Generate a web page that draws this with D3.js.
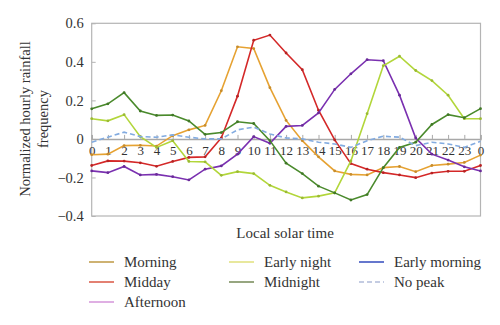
<!DOCTYPE html>
<html><head><meta charset="utf-8">
<script src="https://cdn.jsdelivr.net/npm/d3@7"></script>
<style>body{margin:0;background:#fff}svg{display:block}</style>
</head><body><svg id="c" width="500" height="325"></svg>
<script>
const hours = d3.range(0, 25);
const hourLabels = hours.map(h => String(h % 24));
const yTicks = [-0.4, -0.2, 0, 0.2, 0.4, 0.6];

const morning   = [-0.082,-0.079,-0.035,-0.033,-0.037,0.017,0.047,0.07,0.25,0.478,0.469,0.266,0.096,-0.009,-0.093,-0.166,-0.184,-0.187,-0.149,-0.143,-0.17,-0.138,-0.131,-0.122,-0.084];
const midday    = [-0.138,-0.114,-0.115,-0.124,-0.142,-0.117,-0.096,-0.093,0.005,0.222,0.512,0.539,0.446,0.359,0.149,-0.005,-0.128,-0.157,-0.175,-0.187,-0.201,-0.177,-0.168,-0.168,-0.138];
const earlyNight= [0.105,0.094,0.126,0.012,-0.044,-0.009,-0.117,-0.119,-0.189,-0.17,-0.18,-0.241,-0.275,-0.306,-0.297,-0.28,-0.114,0.131,0.38,0.429,0.355,0.303,0.227,0.105,0.105];
const midnight  = [0.156,0.182,0.24,0.145,0.122,0.124,0.093,0.024,0.033,0.089,0.08,-0.009,-0.126,-0.18,-0.245,-0.28,-0.317,-0.289,-0.149,-0.044,-0.017,0.075,0.126,0.11,0.157];
const afternoon = [-0.166,-0.175,-0.143,-0.187,-0.184,-0.196,-0.213,-0.157,-0.14,-0.079,0.012,-0.023,0.065,0.07,0.135,0.257,0.338,0.411,0.406,0.227,0.005,-0.079,-0.11,-0.145,-0.166];
const noPeak    = [-0.017,0.009,0.035,0.012,0.009,0.021,0.009,0,0,0.047,0.061,0.026,0.005,0,-0.017,-0.026,-0.044,-0.009,0.014,0.009,-0.035,-0.017,-0.026,-0.044,-0.012];

const seriesNames = ["Morning","Midday","Afternoon","Early night","Midnight","No peak"];
const seriesData  = [morning, midday, afternoon, earlyNight, midnight, noPeak];
const seriesColors= ["#e6a232","#d42828","#7a30b0","#b2d63a","#4a8a2c","#82abe0"];

const legendNames  = ["Morning","Midday","Afternoon","Early night","Midnight","Early morning","No peak"];
const legendColors = ["#c9aa62","#e07262","#dca6e0","#e6e692","#8c9c72","#5468c8","#c4cce2"];

const svg = d3.select("#c");
const font = "'Liberation Serif','DejaVu Serif',serif";
const L = 91.7, R = 480.5, T = 23.3, B = 216;
const x = d3.scaleLinear().domain([0, 24]).range([L, R]);
const y = d3.scaleLinear().domain([-0.4, 0.6]).range([B, T]);

// frame
svg.append("rect").attr("x", L).attr("y", T).attr("width", R - L).attr("height", B - T)
  .attr("fill", "none").attr("stroke", "#b4b4b4").attr("stroke-width", 1.2);

// y axis
const yAxis = d3.axisLeft(y).tickValues(yTicks).tickSize(-4).tickPadding(8)
  .tickFormat(d => d === 0 ? "0" : (d < 0 ? "\u2212" : "") + Math.abs(d).toFixed(1));
const ya = svg.append("g").attr("transform", `translate(${L},0)`).call(yAxis);
ya.select(".domain").remove();
ya.selectAll("line").attr("stroke", "#b4b4b4");
ya.selectAll("text").attr("font-family", font).attr("font-size", 14.5).attr("fill", "#333");

// x axis at zero
const xAxis = d3.axisBottom(x).tickValues(hours).tickSize(-4).tickPadding(7)
  .tickFormat((d, i) => hourLabels[i]);
const xa = svg.append("g").attr("transform", `translate(0,${y(0)})`).call(xAxis);
xa.select(".domain").attr("stroke", "#a8a8a8").attr("stroke-width", 1.5);
xa.selectAll("line").attr("stroke", "#a8a8a8");
xa.selectAll("text").attr("font-family", font).attr("font-size", 13).attr("fill", "#333");

// lines
const line = d3.line().x((d, i) => x(hours[i])).y(d => y(d));
seriesData.forEach((data, k) => {
  const g = svg.append("g");
  g.append("path").datum(data).attr("d", line).attr("fill", "none")
    .attr("stroke", seriesColors[k]).attr("stroke-width", 1.6)
    .attr("stroke-dasharray", seriesNames[k] === "No peak" ? "5,3" : null);
  if (seriesNames[k] !== "No peak") {
    g.selectAll("circle").data(data).join("circle")
      .attr("cx", (d, i) => x(hours[i])).attr("cy", d => y(d)).attr("r", 1.4)
      .attr("fill", d3.color(seriesColors[k]).darker(0.4));
  }
});

// axis titles
svg.append("text").attr("x", (L + R) / 2 - 1).attr("y", 238).attr("text-anchor", "middle")
  .attr("font-family", font).attr("font-size", 15).attr("fill", "#333").text("Local solar time");
const yt = svg.append("text").attr("transform", "translate(30,119) rotate(-90)")
  .attr("text-anchor", "middle").attr("font-family", font).attr("font-size", 14.5).attr("fill", "#333");
yt.append("tspan").attr("x", 0).attr("dy", 0).text("Normalized hourly rainfall");
yt.append("tspan").attr("x", 0).attr("dy", 18).text("frequency");

// legend
const cols = [89, 229, 359], rows = [262, 282, 302];
const pos = [[0,0],[0,1],[0,2],[1,0],[1,1],[2,0],[2,1]];
legendNames.forEach((n, i) => {
  const [c, r] = pos[i];
  const g = svg.append("g").attr("transform", `translate(${cols[c]},${rows[r]})`);
  g.append("line").attr("x1", 0).attr("x2", 25).attr("y1", 0).attr("y2", 0)
    .attr("stroke", legendColors[i]).attr("stroke-width", 1.8)
    .attr("stroke-dasharray", n === "No peak" ? "5,3" : null);
  g.append("text").attr("x", 35).attr("y", 5).attr("font-family", font)
    .attr("font-size", 15).attr("fill", "#333").text(n);
});
</script></body></html>
